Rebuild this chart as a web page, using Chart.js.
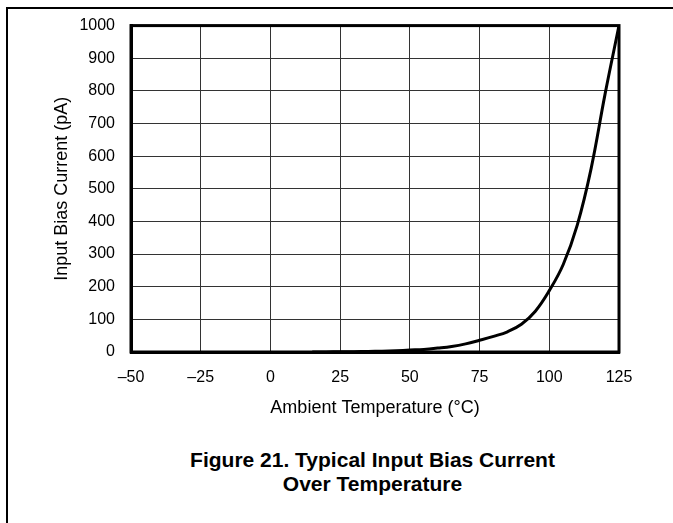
<!DOCTYPE html>
<html>
<head>
<meta charset="utf-8">
<script src="https://cdn.jsdelivr.net/npm/chart.js@4"></script>
<style>
  body { margin: 0; background: #fff; }
  #page { position: relative; width: 673px; height: 523px; overflow: hidden; }
  #topLine { position: absolute; left: 7px; top: 7px; width: 666px; height: 0; border-top: 2px solid #000; }
  #leftLine { position: absolute; left: 6px; top: 7px; width: 0; height: 516px; border-left: 2px solid #000; }
  #chartBox { position: absolute; left: 0; top: 0; width: 673px; height: 430px; }
  #caption { position: absolute; left: 0; width: 745px; top: 448px; text-align: center;
             font: bold 21px "Liberation Sans", Arial, sans-serif; line-height: 24px; color: #000; }
</style>
</head>
<body>
<div id="page">
  <div id="topLine"></div>
  <div id="leftLine"></div>
  <div id="chartBox"><canvas id="biasChart"></canvas></div>
  <div id="caption">Figure 21. Typical Input Bias Current<br>Over Temperature</div>
</div>
<script>
  // 온도(°C)와 입력 바이어스 전류(pA) - 그림에서 읽은 값
  const temps = [15, 20, 25, 30, 35, 40, 45, 50, 55, 60, 65, 70, 75, 80, 85, 90, 95, 100, 105, 110, 115, 120, 125];
  const biasCurrent = [0, 0.3, 0.6, 1, 1.5, 2.5, 4, 6, 8, 12, 17, 25, 36, 48, 62, 85, 125, 188, 268, 388, 562, 790, 1000];
  const xTicks = [-50, -25, 0, 25, 50, 75, 100, 125];
  const yTicks = [0, 100, 200, 300, 400, 500, 600, 700, 800, 900, 1000];

  const tickFont = { family: '"Liberation Sans", Arial, sans-serif', size: 16 };
  const titleFont = { family: '"Liberation Sans", Arial, sans-serif', size: 18 };

  const ctx = document.getElementById('biasChart').getContext('2d');
  new Chart(ctx, {
    type: 'line',
    data: {
      datasets: [{
        data: temps.map((t, i) => ({ x: t, y: biasCurrent[i] })),
        borderColor: '#000',
        borderWidth: 3,
        pointRadius: 0,
        tension: 0.4, // 부드러운 곡선
        fill: false
      }]
    },
    options: {
      responsive: true,
      maintainAspectRatio: false,
      animation: false,
      layout: { padding: { left: 0, right: 54, top: 21, bottom: 0 } },
      scales: {
        x: {
          type: 'linear',
          min: -50, max: 125,
          afterBuildTicks: s => { s.ticks = xTicks.map(v => ({ value: v })); },
          afterFit: s => { s.height = 78; },
          grid: { color: '#333', lineWidth: 1, drawTicks: false },
          border: { color: '#000', width: 3 },
          ticks: {
            color: '#000', font: tickFont, padding: 16, maxRotation: 0,
            callback: v => String(v).replace('-', '\u2013')
          },
          title: { display: true, text: 'Ambient Temperature (\u00B0C)', color: '#000', font: titleFont, padding: { top: 0, bottom: 11 } }
        },
        y: {
          min: 0, max: 1000,
          afterBuildTicks: s => { s.ticks = yTicks.map(v => ({ value: v })); },
          afterFit: s => { s.width = 131; },
          grid: { color: '#333', lineWidth: 1, drawTicks: false },
          border: { color: '#000', width: 3 },
          ticks: { color: '#000', font: tickFont, padding: 16, callback: v => String(v) },
          title: { display: true, text: 'Input Bias Current (pA)', color: '#000', font: titleFont, padding: { top: 51, bottom: 0 } }
        }
      },
      plugins: {
        legend: { display: false },
        tooltip: { enabled: false }
      }
    },
    plugins: [{
      // 오른쪽·위쪽 테두리도 굵게
      id: 'frame',
      afterDraw(chart) {
        const a = chart.chartArea, c = chart.ctx;
        c.save();
        c.strokeStyle = '#000';
        c.lineWidth = 3;
        c.strokeRect(a.left, a.top, a.right - a.left, a.bottom - a.top);
        c.restore();
      }
    }]
  });
</script>
</body>
</html>
